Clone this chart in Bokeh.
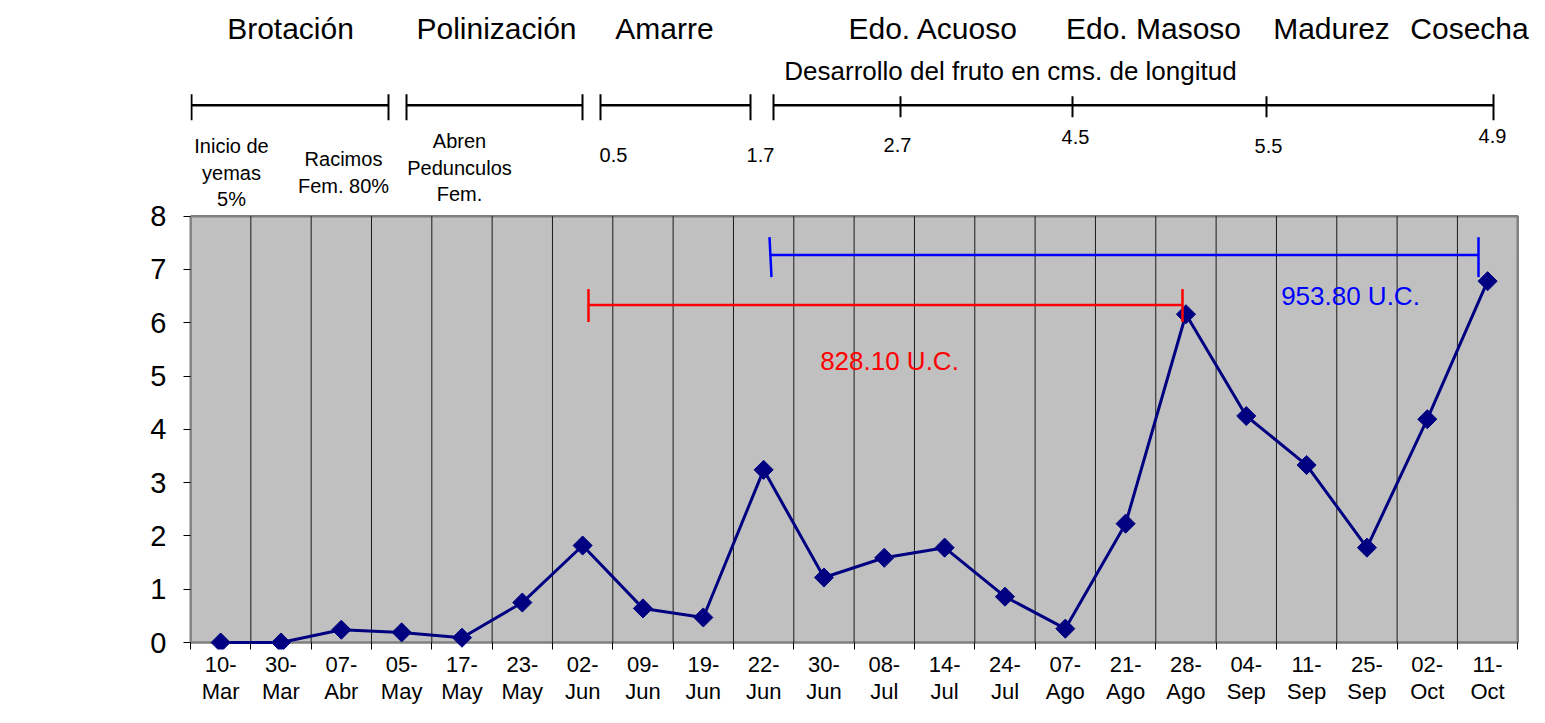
import numpy as np
from bokeh.plotting import figure
from bokeh.models import Range1d, FixedTicker, Label
from bokeh.core.properties import value
from bokeh.embed import file_html
from bokeh.resources import INLINE

# ---------------- data ----------------
fechas = ["10-Mar", "30-Mar", "07-Abr", "05-May", "17-May", "23-May", "02-Jun",
          "09-Jun", "19-Jun", "22-Jun", "30-Jun", "08-Jul", "14-Jul", "24-Jul",
          "07-Ago", "21-Ago", "28-Ago", "04-Sep", "11-Sep", "25-Sep", "02-Oct", "11-Oct"]
ptd = [0.0, 0.0, 0.24, 0.19, 0.09, 0.75, 1.82, 0.64, 0.47, 3.24, 1.22, 1.59,
       1.78, 0.86, 0.26, 2.23, 6.16, 4.25, 3.33, 1.78, 4.19, 6.78]
y_ticks = [0, 1, 2, 3, 4, 5, 6, 7, 8]
etapas = ["Brotación", "Polinización", "Amarre", "Edo. Acuoso", "Edo. Masoso", "Madurez", "Cosecha"]
subtitulo = "Desarrollo del fruto en cms. de longitud"
notas = ["Inicio de\nyemas\n5%", "Racimos\nFem. 80%", "Abren\nPedunculos\nFem."]
longitudes = ["0.5", "1.7", "2.7", "4.5", "5.5", "4.9"]
unidades_calor = ["828.10 U.C.", "953.80 U.C."]
eje_y = "P/T/D"

FONT = value("Liberation Sans")

# ---------------- layout helpers ----------------
W, H = 1529, 707
LEFT, BOTTOM = 190, 57
PX = 60.33   # pixels per category
PY = 53.375  # pixels per unit
n = len(fechas)
idx = list(range(n))


def dx(px):  # pixel -> data x (layout annotations only)
    return (px - 190) / PX - 0.5


def dy(py):  # pixel -> data y (layout annotations only)
    return (643 - py) / PY


y0 = -(H - BOTTOM - 643) / PY
p = figure(width=W, height=H,
           x_range=Range1d(-0.5, -0.5 + (W - LEFT) / PX),
           y_range=Range1d(y0, 643 / PY),
           output_backend="svg", toolbar_location=None,
           min_border_left=LEFT, min_border_right=0, min_border_top=0,
           min_border_bottom=BOTTOM)
p.outline_line_color = None
p.grid.visible = False

top = y_ticks[-1]
# plot area
p.quad(left=-0.5, right=n - 0.5, bottom=0, top=top, fill_color="#C0C0C0",
       line_color="#808080", line_width=2.5)
bounds = [i + 0.5 for i in range(n - 1)]
p.segment(x0=bounds, y0=[0] * len(bounds), x1=bounds, y1=[top] * len(bounds),
          line_color="#1a1a1a", line_width=1)

# series
p.line(idx, ptd, line_color="#000080", line_width=3)
p.scatter(idx, ptd, marker="square", angle=np.pi / 4, size=13.5,
          fill_color="#000080", line_color="#000080")

# heat-unit brackets
rx0, rx1, ry = dx(588), dx(1182), dy(305)
p.segment(x0=[rx0, rx0, rx1], y0=[ry, dy(289), dy(289)],
          x1=[rx1, rx0, rx1], y1=[ry, dy(322), dy(322)],
          line_color="#FF0000", line_width=2.5)
bx0, bx1, by = dx(769), dx(1478), dy(255)
p.segment(x0=[bx0, bx0, bx1], y0=[by, dy(237), dy(237)],
          x1=[bx1, dx(771), bx1], y1=[by, dy(277), dy(277)],
          line_color="#0000FF", line_width=2.5)
p.text(x=[dx(889), dx(1350)], y=[dy(361), dy(296)], text=unidades_calor,
       text_color=["#FF0000", "#0000FF"], text_font=FONT, text_font_size="26px",
       text_align="center", text_baseline="middle")

# top annotation: stage names
p.text(x=[dx(v) for v in [290, 496, 664, 933, 1153, 1331, 1469]],
       y=[dy(28)] * len(etapas), text=etapas, text_font=FONT,
       text_font_size="30px", text_align="center", text_baseline="middle",
       text_color="black")
p.text(x=[dx(1010)], y=[dy(71)], text=[subtitulo], text_font=FONT,
       text_font_size="26px", text_align="center", text_baseline="middle",
       text_color="black")

# top bracket lines
segs = [(191, 388), (406, 582), (600, 750), (773, 1493)]
ly = dy(105)
hx0 = [dx(a) for a, b in segs]
hx1 = [dx(b) for a, b in segs]
p.segment(x0=hx0, y0=[ly] * 4, x1=hx1, y1=[ly] * 4, line_color="black", line_width=2.5)
ends = [dx(v) for a, b in segs for v in (a, b)]
p.segment(x0=ends, y0=[dy(94)] * len(ends), x1=ends, y1=[dy(120)] * len(ends),
          line_color="black", line_width=2)
mids = [dx(v) for v in [900, 1072, 1266]]
p.segment(x0=mids, y0=[dy(96)] * 3, x1=mids, y1=[dy(117)] * 3,
          line_color="black", line_width=2)

# small notes
p.text(x=[dx(231), dx(343), dx(459)], y=[dy(135), dy(148), dy(130)], text=notas,
       text_font=FONT, text_font_size="20px", text_align="center",
       text_baseline="top", text_line_height=1.2, text_color="black")
p.text(x=[dx(v) for v in [613, 760, 897, 1075, 1268, 1492]],
       y=[dy(v) for v in [155, 155, 145, 137, 146, 136]], text=longitudes,
       text_font=FONT, text_font_size="20px", text_align="center",
       text_baseline="middle", text_color="black")

# axes
xa = p.xaxis[0]
xa.ticker = FixedTicker(ticks=idx, minor_ticks=[i - 0.5 for i in range(n + 1)])
xa.major_label_overrides = {i: f.replace("-", "-\n") for i, f in enumerate(fechas)}
xa.axis_line_color = None
xa.major_tick_in = 0
xa.major_tick_out = 0
xa.minor_tick_in = 7
xa.minor_tick_out = 0
xa.minor_tick_line_color = "black"
xa.minor_tick_line_width = 1
xa.major_label_text_font = "Liberation Sans"
xa.major_label_text_font_size = "22px"
xa.major_label_text_color = "black"
xa.major_label_text_line_height = 1.1
xa.major_label_standoff = 2
xa.bounds = (-0.5, n - 0.5)

ya = p.yaxis[0]
ya.ticker = FixedTicker(ticks=y_ticks)
ya.bounds = (0, top)
ya.axis_line_color = "#808080"
ya.axis_line_width = 2
ya.major_tick_in = 0
ya.major_tick_out = 7
ya.major_tick_line_color = "black"
ya.minor_tick_line_color = None
ya.major_label_text_font = "Liberation Sans"
ya.major_label_text_font_size = "29px"
ya.major_label_text_color = "black"
ya.major_label_standoff = 17

p.add_layout(Label(x=dx(50), y=dy(336), text=eje_y, text_font="Liberation Sans",
                   text_font_size="23px", text_font_style="bold",
                   text_align="center", text_baseline="middle", text_color="black"))

open("out.html", "w").write(file_html(p, INLINE))
